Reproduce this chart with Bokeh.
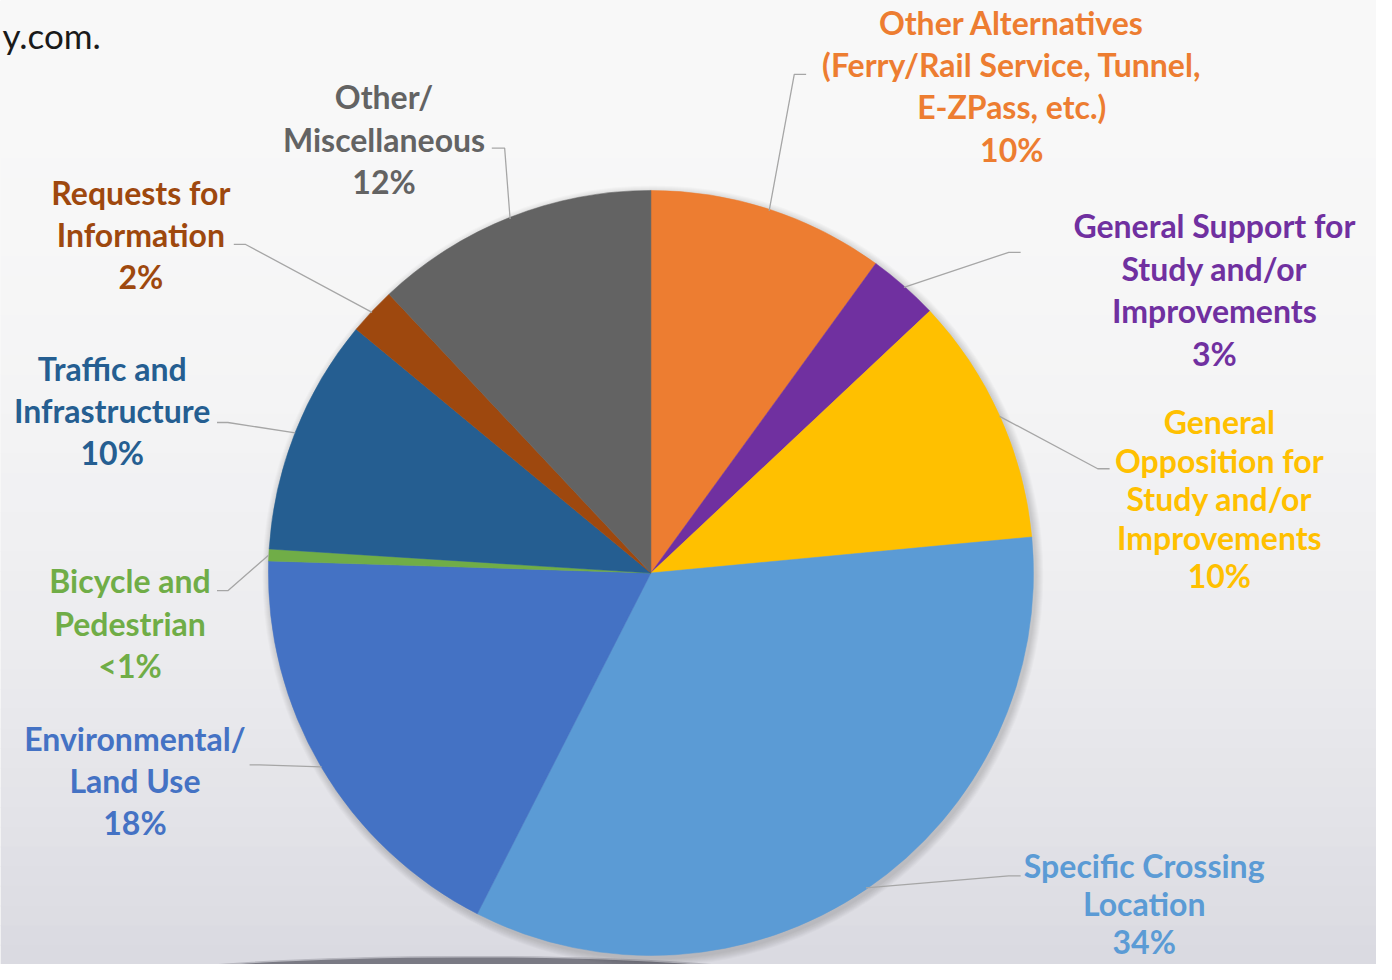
import math
from bokeh.plotting import figure
from bokeh.models import Range1d
from bokeh.core.properties import value
from bokeh.embed import file_html
from bokeh.resources import INLINE

# ---- data ----
categories = [
    "Other Alternatives (Ferry/Rail Service, Tunnel, E-ZPass, etc.)",
    "General Support for Study and/or Improvements",
    "General Opposition for Study and/or Improvements",
    "Specific Crossing Location",
    "Environmental/ Land Use",
    "Bicycle and Pedestrian",
    "Traffic and Infrastructure",
    "Requests for Information",
    "Other/ Miscellaneous",
]
values = [10, 3, 10.5, 34, 18, 0.5, 10, 2, 12]
pct_labels = ["10%", "3%", "10%", "34%", "18%", "<1%", "10%", "2%", "12%"]
label_lines = [
    ["Other Alternatives", "(Ferry/Rail Service, Tunnel,", "E-ZPass, etc.)"],
    ["General Support for", "Study and/or", "Improvements"],
    ["General", "Opposition for", "Study and/or", "Improvements"],
    ["Specific Crossing", "Location"],
    ["Environmental/", "Land Use"],
    ["Bicycle and", "Pedestrian"],
    ["Traffic and", "Infrastructure"],
    ["Requests for", "Information"],
    ["Other/", "Miscellaneous"],
]
colors = ["#ED7D31", "#7030A0", "#FFC000", "#5B9BD5", "#4472C4",
          "#70AD47", "#255E91", "#9E480E", "#636363"]

# ---- layout (reference pixel coordinates) ----
RW, RH = 1392, 980
W, H = 1376, 964
cx, cy, R = 658, 582, 387
label_pos = [  # (x center, first line y, line spacing)
    (1023, 22, 43.0),
    (1228, 229, 43.3),
    (1233, 428, 39.2),
    (1157, 879, 39.0),
    (136, 750, 43.0),
    (131, 590, 43.0),
    (113, 374, 43.0),
    (142, 195, 43.0),
    (388, 98, 43.0),
]
elbows = [
    ((803, 75), (815, 75)),
    ((1020, 256), (1032, 256)),
    ((1110, 476), (1122, 476)),
    ((1020, 890), (1032, 890)),
    ((262, 777), (252, 777)),
    ((230, 600), (219, 600)),
    ((230, 429), (219, 429)),
    ((248, 248), (236, 248)),
    ((510, 150), (497, 150)),
]

def Y(py):
    return RH - py

p = figure(width=W, height=H, output_backend="svg", toolbar_location=None,
           x_range=Range1d(0, RW), y_range=Range1d(0, RH),
           min_border=0, outline_line_color=None)
p.axis.visible = False
p.grid.visible = False
p.border_fill_color = "#F4F4F4"
p.background_fill_color = "#F4F4F4"

# background gradient
top_c = (248, 248, 248)
bot_c = (218, 218, 225)
n = 49
for i in range(n):
    t = i / (n - 1)
    t2 = t ** 2.2
    c = tuple(int(round(top_c[k] + (bot_c[k] - top_c[k]) * t2)) for k in range(3))
    y0 = RH * i / n
    y1 = RH * (i + 1) / n + 1
    p.quad(left=0, right=RW, top=Y(y0), bottom=Y(y1),
           fill_color="#%02x%02x%02x" % c, line_color=None)

# bottom dark shelf edge
p.ellipse(x=[470], y=[Y(1010)], width=800, height=76, fill_color="#7a7a84",
          line_color="#b8b8c0", line_width=1.5)

# top-left fragment text
p.text(x=[2], y=[Y(35)], text=["y.com."], text_font=value("Lato"),
       text_font_size="35px", text_color="#1a1a1a", text_align="left",
       text_baseline="middle")

# soft shadow
for k in range(8):
    p.circle(x=[cx + 2], y=[Y(cy + 3)], radius=R + 8 - k, fill_color="#000000",
             fill_alpha=0.018, line_color=None)

# wedges
total = sum(values)
cum = 0.0
mids = []
for v, col in zip(values, colors):
    a = cum / total
    b = (cum + v) / total
    cum += v
    mids.append((a + b) / 2)
    p.wedge(x=[cx], y=[Y(cy)], radius=R,
            start_angle=math.pi / 2 - 2 * math.pi * b,
            end_angle=math.pi / 2 - 2 * math.pi * a,
            direction="anticlock", fill_color=col, line_color=col,
            line_width=0.5)

# leader lines
for m, (e1, e2) in zip(mids, elbows):
    ang = 2 * math.pi * m
    sx = cx + R * math.sin(ang)
    sy = cy - R * math.cos(ang)
    p.line(x=[sx, e1[0], e2[0]], y=[Y(sy), Y(e1[1]), Y(e2[1])],
           line_color="#A6A6A6", line_width=1.3)

# labels
for lines, pct, col, (lx, ly, sp) in zip(label_lines, pct_labels, colors, label_pos):
    texts = lines + [pct]
    xs = [lx] * len(texts)
    ys = [Y(ly + i * sp) for i in range(len(texts))]
    p.text(x=xs, y=ys, text=texts, text_font=value("Lato"),
           text_font_style="bold", text_font_size="32px", text_color=col,
           text_align="center", text_baseline="middle")

open("out.html", "w").write(file_html(p, INLINE))
